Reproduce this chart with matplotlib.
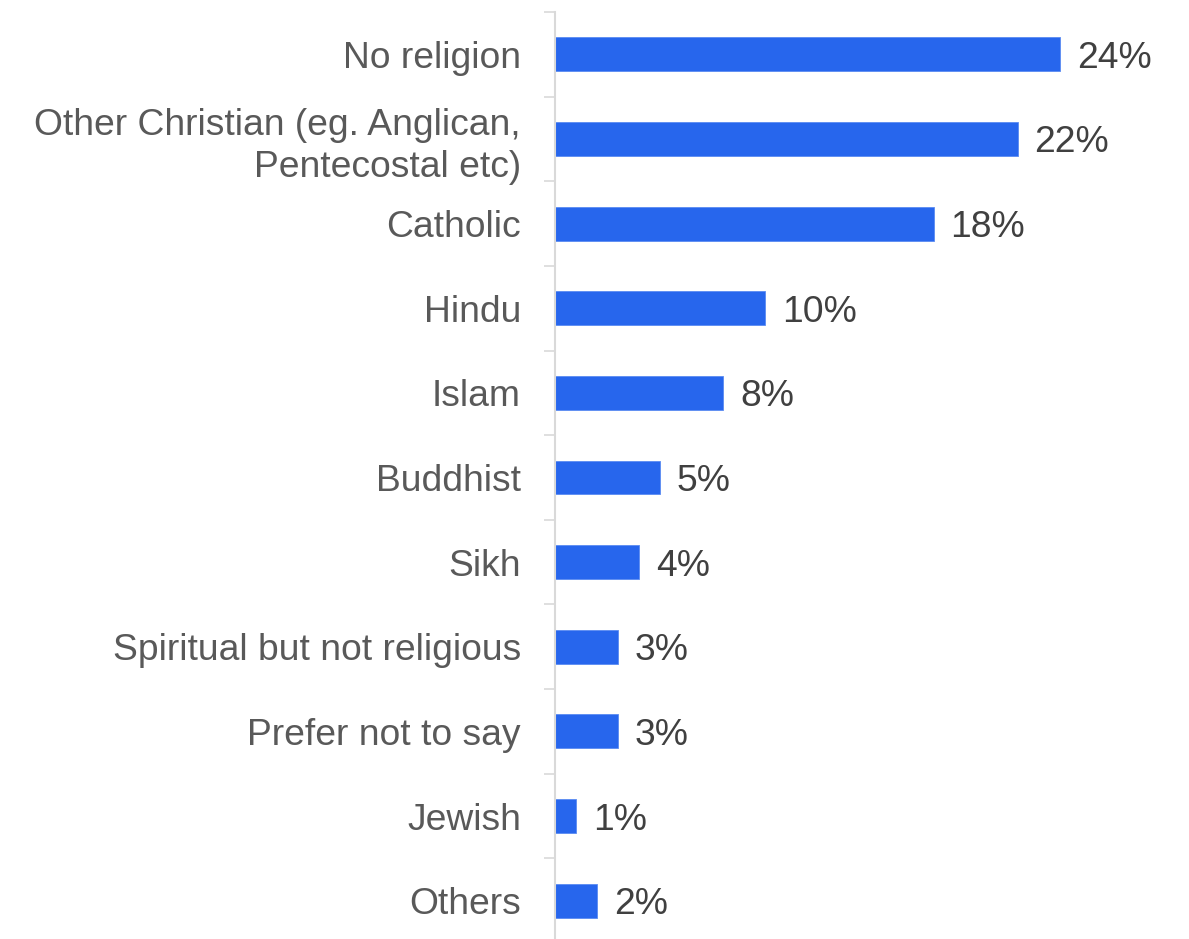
import matplotlib
matplotlib.use("Agg")
import matplotlib.pyplot as plt
import numpy as np

categories = [
    "No religion",
    "Other Christian (eg. Anglican,\nPentecostal etc)",
    "Catholic",
    "Hindu",
    "Islam",
    "Buddhist",
    "Sikh",
    "Spiritual but not religious",
    "Prefer not to say",
    "Jewish",
    "Others",
]
values = [24, 22, 18, 10, 8, 5, 4, 3, 3, 1, 2]

plt.rcParams["font.family"] = ["Liberation Sans", "DejaVu Sans"]

W, H = 1189, 939
fig = plt.figure(figsize=(W / 100, H / 100), dpi=100)
left_px, right_px, top_px, bottom_px = 555, 1186, 12, 943
ax = fig.add_axes([left_px / W, (H - bottom_px) / H,
                   (right_px - left_px) / W, (bottom_px - top_px) / H])

y = np.arange(len(categories))
bar_color = "#2766ED"
ax.barh(y, values, height=0.40, color=bar_color, edgecolor="#5A8BF2", linewidth=0.6)

for yi, v in zip(y, values):
    ax.text(v + 0.8, yi, f"{v}%", va="center_baseline", ha="left",
            fontsize=26.8, color="#404040")

ax.set_xlim(0, 30)
ax.set_ylim(len(categories) - 0.5, -0.5)

ax.set_yticks(y)
ax.set_yticklabels(categories, fontsize=26.8, color="#595959", linespacing=1.25)
ax.tick_params(axis="y", which="major", length=0, pad=24.5)
ax.set_yticks(np.arange(len(categories) + 1) - 0.5, minor=True)
ax.tick_params(axis="y", which="minor", length=8, width=1.2, color="#D9D9D9")
ax.set_xticks([])

for side in ("top", "right", "bottom"):
    ax.spines[side].set_visible(False)
ax.spines["left"].set_color("#D9D9D9")
ax.spines["left"].set_linewidth(1.5)

fig.savefig("out.png", dpi=100)
